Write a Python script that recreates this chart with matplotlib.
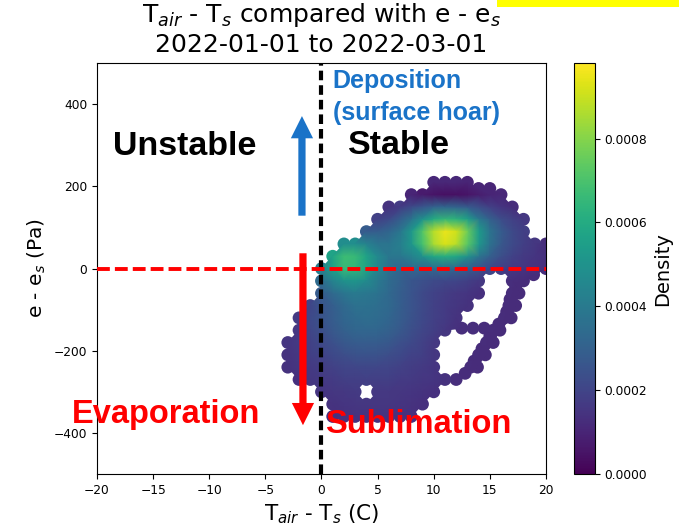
import numpy as np
import matplotlib
matplotlib.use("Agg")
import matplotlib.pyplot as plt
import matplotlib.tri as mtri
from matplotlib.patches import FancyArrowPatch, Rectangle

# point cloud, row by row
# row_y: e - e_s (Pa), row_x: T_air - T_s (C), row_d: density (x 1e-4)
row_y = [210, 195, 180, 150, 120, 90, 60, 30, 0, -30, -60, -90, -120,
         -145, -150, -180, -210, -240, -270, -300, -330, -360]
row_x = [
    [10, 11, 12, 13],
    [14, 15],
    [8, 9, 10, 11, 12, 13, 14, 15, 16],
    [6, 7, 8, 9, 10, 11, 12, 13, 14, 15, 16, 17],
    [5, 6, 7, 8, 9, 10, 11, 12, 13, 14, 15, 16, 17, 18],
    [4, 5, 6, 7, 8, 9, 10, 11, 12, 13, 14, 15, 16, 17, 18],
    [2, 3, 4, 5, 6, 7, 8, 9, 10, 11, 12, 13, 14, 15, 16, 17, 18, 19, 20],
    [1, 2, 3, 4, 5, 6, 7, 8, 9, 10, 11, 12, 13, 14, 15, 16, 17, 18, 19, 20],
    [0, 1, 2, 3, 4, 5, 6, 7, 8, 9, 10, 11, 12, 13, 14, 15, 16, 17, 18, 19, 20],
    [0, 1, 2, 3, 4, 5, 6, 7, 8, 9, 10, 11, 12, 13, 14, 17, 18],
    [0, 1, 2, 3, 4, 5, 6, 7, 8, 9, 10, 11, 12, 13, 14, 17, 17.6],
    [-1, 0, 1, 2, 3, 4, 5, 6, 7, 8, 9, 10, 11, 12, 13, 16.7, 17.3],
    [-2, -1, 0, 1, 2, 3, 4, 5, 6, 7, 8, 9, 10, 11, 12, 16.3, 16.9],
    [12.5, 13.5, 14.5],
    [-2, -1, 0, 1, 2, 3, 4, 5, 6, 7, 8, 9, 10, 11, 15.3, 15.9],
    [-3, -2, -1, 0, 1, 2, 3, 4, 5, 6, 7, 8, 9, 10, 14.7, 15.3],
    [-3, -2, -1, 0, 1, 2, 3, 4, 5, 6, 7, 8, 9, 10, 14, 14.6],
    [-3, -2, -1, 0, 1, 2, 3, 4, 5, 6, 7, 8, 9, 10, 13.3, 13.9],
    [-2, -1, 0, 1, 2, 3, 4, 5, 6, 7, 8, 9, 10, 11, 12],
    [0, 1, 2, 3, 5, 6, 7, 8, 9, 10],
    [1, 2, 3, 4, 5, 6, 7, 8, 9],
    [1, 2, 3, 4, 5, 6, 7, 8],
]
row_d = [
    [1.1, 1.1, 1.1, 1.0],
    [1.0, 1.0],
    [1.0, 0.7, 0.5, 0.4, 0.4, 0.5, 0.8, 1.0, 1.1],
    [1.45, 1.7, 2.15, 2.6, 3.0, 3.2, 3.1, 2.8, 2.35, 1.9, 1.5, 1.25],
    [1.9, 2.2, 2.9, 3.8, 5.0, 6.0, 6.5, 6.3, 5.5, 4.0, 3.0, 2.3, 1.9, 1.6],
    [2.8, 2.9, 3.2, 3.9, 5.2, 7.1, 8.7, 9.5, 9.1, 7.6, 5.4, 3.8, 2.8, 2.2, 1.8],
    [4.75, 4.8, 4.3, 3.8, 3.8, 4.2, 5.2, 6.9, 8.5, 9.2, 8.8, 7.3, 5.2, 3.7,
     2.7, 2.2, 1.8, 1.55, 1.3],
    [5.7, 6.7, 6.6, 5.7, 4.6, 3.9, 3.9, 4.3, 5.0, 5.8, 6.1, 5.8, 4.9, 3.8,
     3.0, 2.35, 1.95, 1.65, 1.5, 1.35],
    [4.2, 5.6, 6.6, 6.5, 5.7, 4.5, 3.7, 3.2, 3.2, 3.2, 3.4, 3.4, 3.2, 2.9,
     2.5, 2.1, 1.8, 1.6, 1.5, 1.4, 1.3],
    [3.4, 4.4, 5.0, 5.1, 4.7, 4.0, 3.4, 3.0, 2.6, 2.4, 2.2, 2.1, 2.0, 1.8,
     1.6, 1.3, 1.2],
    [2.8, 3.35, 3.8, 4.0, 3.9, 3.7, 3.3, 2.9, 2.55, 2.2, 1.95, 1.75, 1.6,
     1.5, 1.35, 1.25, 1.2],
    [2.0, 2.55, 2.9, 3.3, 3.6, 3.65, 3.5, 3.3, 2.9, 2.55, 2.2, 1.9, 1.7,
     1.55, 1.4, 1.25, 1.2],
    [1.7, 2.15, 2.5, 2.85, 3.2, 3.4, 3.5, 3.4, 3.2, 2.85, 2.5, 2.15, 1.9,
     1.7, 1.45, 1.25, 1.2],
    [1.3, 1.3, 1.25],
    [1.6, 2.05, 2.35, 2.7, 3.0, 3.2, 3.25, 3.2, 3.0, 2.7, 2.35, 2.05, 1.8,
     1.55, 1.25, 1.2],
    [1.5, 1.7, 1.9, 2.15, 2.4, 2.65, 2.8, 2.85, 2.8, 2.65, 2.4, 2.15, 1.9,
     1.6, 1.25, 1.2],
    [1.45, 1.6, 1.8, 1.95, 2.15, 2.3, 2.45, 2.5, 2.45, 2.3, 2.15, 1.95, 1.8,
     1.55, 1.25, 1.2],
    [1.4, 1.55, 1.65, 1.75, 1.9, 2.0, 2.05, 2.1, 2.05, 2.0, 1.9, 1.75, 1.65,
     1.5, 1.25, 1.2],
    [1.35, 1.55, 1.65, 1.7, 1.8, 1.8, 1.85, 1.8, 1.8, 1.7, 1.65, 1.55, 1.5,
     1.4, 1.3],
    [1.5, 1.55, 1.6, 1.65, 1.6, 1.6, 1.55, 1.5, 1.45, 1.35],
    [1.45, 1.5, 1.55, 1.55, 1.55, 1.55, 1.5, 1.45, 1.35],
    [1.35, 1.4, 1.45, 1.45, 1.45, 1.45, 1.4, 1.35],
]

# loose chain of points on the right, below the zero line
band_x = [18.9, 17.3, 16.8, 16.5, 15.8, 15.0, 14.3, 13.6, 12.8]
band_y = [-15, -45, -75, -105, -135, -165, -195, -225, -255]
band_d = [1.2, 1.2, 1.2, 1.2, 1.2, 1.2, 1.2, 1.2, 1.25]

x_ticks = [-20, -15, -10, -5, 0, 5, 10, 15, 20]
y_ticks = [-400, -200, 0, 200, 400]
cbar_ticks = [0.0, 0.0002, 0.0004, 0.0006, 0.0008]

xs, ys, ds = list(band_x), list(band_y), [d * 1e-4 for d in band_d]
for yv, xrow, drow in zip(row_y, row_x, row_d):
    for xv, dv in zip(xrow, drow):
        xs.append(xv)
        ys.append(yv)
        ds.append(dv * 1e-4)
xs = np.array(xs, dtype=float)
ys = np.array(ys, dtype=float)
ds = np.array(ds)
order = np.argsort(ds)

# smooth colour between neighbouring points, no triangles across the gaps
tri_n = mtri.Triangulation(xs, ys / 30.0)
tris = tri_n.triangles
px, py = xs[tris], ys[tris] / 30.0
edges = np.hypot(px - np.roll(px, 1, axis=1), py - np.roll(py, 1, axis=1))
tri = mtri.Triangulation(xs, ys, tris, mask=edges.max(axis=1) > 1.6)

fig = plt.figure(figsize=(6.96, 5.26), dpi=100)
ax = fig.add_axes([0.1394, 0.0989, 0.645, 0.781])
cax = fig.add_axes([0.8247, 0.0989, 0.0302, 0.781])

sc = ax.scatter(xs[order], ys[order], c=ds[order], cmap="viridis",
                vmin=0, vmax=0.00098, s=85, linewidths=0, zorder=2)
ax.tripcolor(tri, ds, shading="gouraud", cmap="viridis",
             vmin=0, vmax=0.00098, zorder=2.5)

ax.axvline(0, color="black", lw=3, linestyle=(0, (2.3, 1.2)), zorder=3)
ax.axhline(0, color="red", lw=2.8, linestyle=(0, (3.3, 1.3)), zorder=3)

ax.set_xlim(-20, 20)
ax.set_ylim(-500, 500)
ax.set_xticks(x_ticks)
ax.set_yticks(y_ticks)
ax.tick_params(labelsize=8.8)
ax.set_xlabel("T$_{air}$ - T$_s$ (C)", fontsize=15.5)
ax.set_ylabel("e - e$_s$ (Pa)", fontsize=14.5)
ax.set_title("T$_{air}$ - T$_s$ compared with e - e$_s$\n2022-01-01 to 2022-03-01",
             fontsize=18, pad=8)

cb = fig.colorbar(sc, cax=cax, ticks=cbar_ticks, format="%.4f")
cb.ax.tick_params(labelsize=8.8)
cb.set_label("Density", fontsize=14)

blue = "#1a73c8"
arrow_style = "simple,head_width=0.8,head_length=0.8,tail_width=0.26"
ax.add_patch(FancyArrowPatch((-1.74, 122), (-1.74, 378), arrowstyle=arrow_style,
                             mutation_scale=20, color=blue, lw=0, zorder=4))
ax.add_patch(FancyArrowPatch((-1.65, 44), (-1.65, -388), arrowstyle=arrow_style,
                             mutation_scale=20, color="red", lw=0, zorder=4))

bold = dict(family="Liberation Sans", fontweight="bold", va="baseline", zorder=5)
ax.text(-18.57, 276, "Unstable", fontsize=24.5, color="black", **bold)
ax.text(2.36, 280, "Stable", fontsize=24.5, color="black", **bold)
ax.text(1.0, 439, "Deposition", fontsize=18, color=blue, **bold)
ax.text(1.0, 361, "(surface hoar)", fontsize=18, color=blue, **bold)
ax.text(-22.2, -376, "Evaporation", fontsize=23.5, color="red", **bold)
ax.text(0.31, -400, "Sublimation", fontsize=23.5, color="red", **bold)

# yellow highlight cut off at the top edge
fig.patches.append(Rectangle((0.714, 0.9867), 0.2615, 0.02, transform=fig.transFigure,
                             facecolor="#ffff00", edgecolor="none"))

fig.savefig("out.png", dpi=100)
